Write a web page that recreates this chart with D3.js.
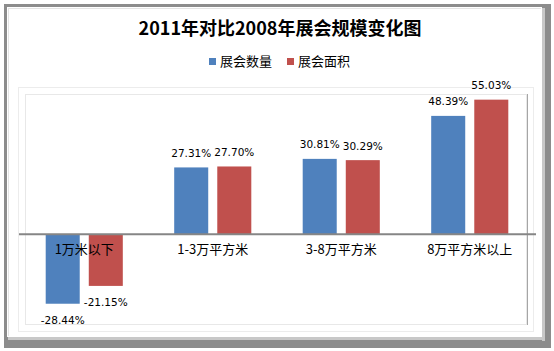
<!DOCTYPE html>
<html>
<head>
<meta charset="utf-8">
<script src="https://cdn.jsdelivr.net/npm/d3@7"></script>
<style>
  body { margin: 0; background: #fff; }
  svg { display: block; }
</style>
</head>
<body>
<div id="chart"></div>
<script>
const width = 554, height = 351;

const title = '2011年对比2008年展会规模变化图';
const categories = ['1万米以下', '1-3万平方米', '3-8万平方米', '8万平方米以上'];
const seriesNames = ['展会数量', '展会面积'];
const countValues = [-28.44, 27.31, 30.81, 48.39]; // 展会数量
const areaValues = [-21.15, 27.70, 30.29, 55.03];  // 展会面积
const colors = ['#4f81bd', '#c0504d'];

const svg = d3.select('#chart').append('svg')
  .attr('width', width)
  .attr('height', height);

// ---- outer frame with shadow ----
svg.append('rect').attr('x', 4).attr('y', 4).attr('width', 547).attr('height', 344).attr('fill', '#8c8c8c');
svg.append('rect').attr('x', 542).attr('y', 8).attr('width', 3).attr('height', 333).attr('fill', '#c8c8c8');
svg.append('rect').attr('x', 8).attr('y', 337).attr('width', 537).attr('height', 3).attr('fill', '#c8c8c8');
svg.append('rect').attr('x', 7).attr('y', 7).attr('width', 535).attr('height', 330).attr('fill', '#fff');
svg.append('line').attr('x1', 8.5).attr('y1', 8).attr('x2', 8.5).attr('y2', 336).attr('stroke', '#e4e4e4');
svg.append('line').attr('x1', 8).attr('y1', 8.5).attr('x2', 541).attr('y2', 8.5).attr('stroke', '#e4e4e4');

// ---- plot area frames ----
svg.append('rect').attr('x', 18.5).attr('y', 87.5).attr('width', 515).attr('height', 244)
  .attr('fill', 'none').attr('stroke', '#ececec');
svg.append('rect').attr('x', 25.5).attr('y', 94.5).attr('width', 501).attr('height', 230)
  .attr('fill', 'none').attr('stroke', '#e8e8e8');
svg.append('line').attr('x1', 527.5).attr('y1', 94).attr('x2', 527.5).attr('y2', 325)
  .attr('stroke', '#a6a6a6');

// ---- scales ----
const x0 = d3.scaleBand()
  .domain(categories)
  .range([20, 534])
  .paddingInner(0.4)
  .paddingOuter(0.2);

const x1 = d3.scaleBand()
  .domain(seriesNames)
  .range([0, x0.bandwidth()])
  .paddingInner(0.21);

const y = d3.scaleLinear()
  .domain([-40, 60])
  .range([332, 87.5]);

const rows = categories.map((c, i) => ({
  category: c,
  values: [
    {name: seriesNames[0], value: countValues[i]},
    {name: seriesNames[1], value: areaValues[i]}
  ]
}));

// ---- bars ----
const groups = svg.append('g').selectAll('g')
  .data(rows)
  .join('g')
  .attr('transform', d => `translate(${x0(d.category)},0)`);

groups.selectAll('rect')
  .data(d => d.values)
  .join('rect')
  .attr('x', d => x1(d.name))
  .attr('width', x1.bandwidth())
  .attr('y', d => y(Math.max(0, d.value)))
  .attr('height', d => Math.abs(y(d.value) - y(0)))
  .attr('fill', (d, i) => colors[i]);

// ---- data labels ----
groups.selectAll('text')
  .data(d => d.values)
  .join('text')
  .attr('x', d => x1(d.name) + x1.bandwidth() / 2)
  .attr('y', d => d.value >= 0 ? y(d.value) - 10.5 : y(d.value) + 20.5)
  .attr('text-anchor', 'middle')
  .style('font-family', '"DejaVu Sans", Verdana, sans-serif')
  .style('font-size', '10.5px')
  .style('fill', '#000')
  .text(d => d.value.toFixed(2) + '%');

// ---- zero axis ----
svg.append('line')
  .attr('x1', 19).attr('x2', 536)
  .attr('y1', y(0)).attr('y2', y(0))
  .attr('stroke', '#868686')
  .attr('stroke-width', 2);

// ---- category labels ----
const xAxis = d3.axisBottom(x0).tickSize(0).tickPadding(0);
const axisG = svg.append('g')
  .attr('transform', `translate(0,${y(0) + 20})`)
  .call(xAxis);
axisG.select('.domain').remove();
axisG.selectAll('text')
  .attr('dy', 0)
  .style('font-family', '"Noto Sans CJK SC", sans-serif')
  .style('font-size', '13px')
  .style('fill', '#000');

// ---- title ----
svg.append('text')
  .attr('x', 280)
  .attr('y', 35)
  .attr('text-anchor', 'middle')
  .style('font-family', '"Noto Sans CJK SC", sans-serif')
  .style('font-weight', 'bold')
  .style('font-size', '18px')
  .text(title);

// ---- legend ----
const legendX = [209, 287];
const legend = svg.append('g');
seriesNames.forEach((name, i) => {
  legend.append('rect')
    .attr('x', legendX[i])
    .attr('y', 58)
    .attr('width', 7)
    .attr('height', 7)
    .attr('fill', colors[i]);
  legend.append('text')
    .attr('x', legendX[i] + 11)
    .attr('y', 66)
    .style('font-family', '"Noto Sans CJK SC", sans-serif')
    .style('font-size', '13px')
    .text(name);
});
</script>
</body>
</html>
